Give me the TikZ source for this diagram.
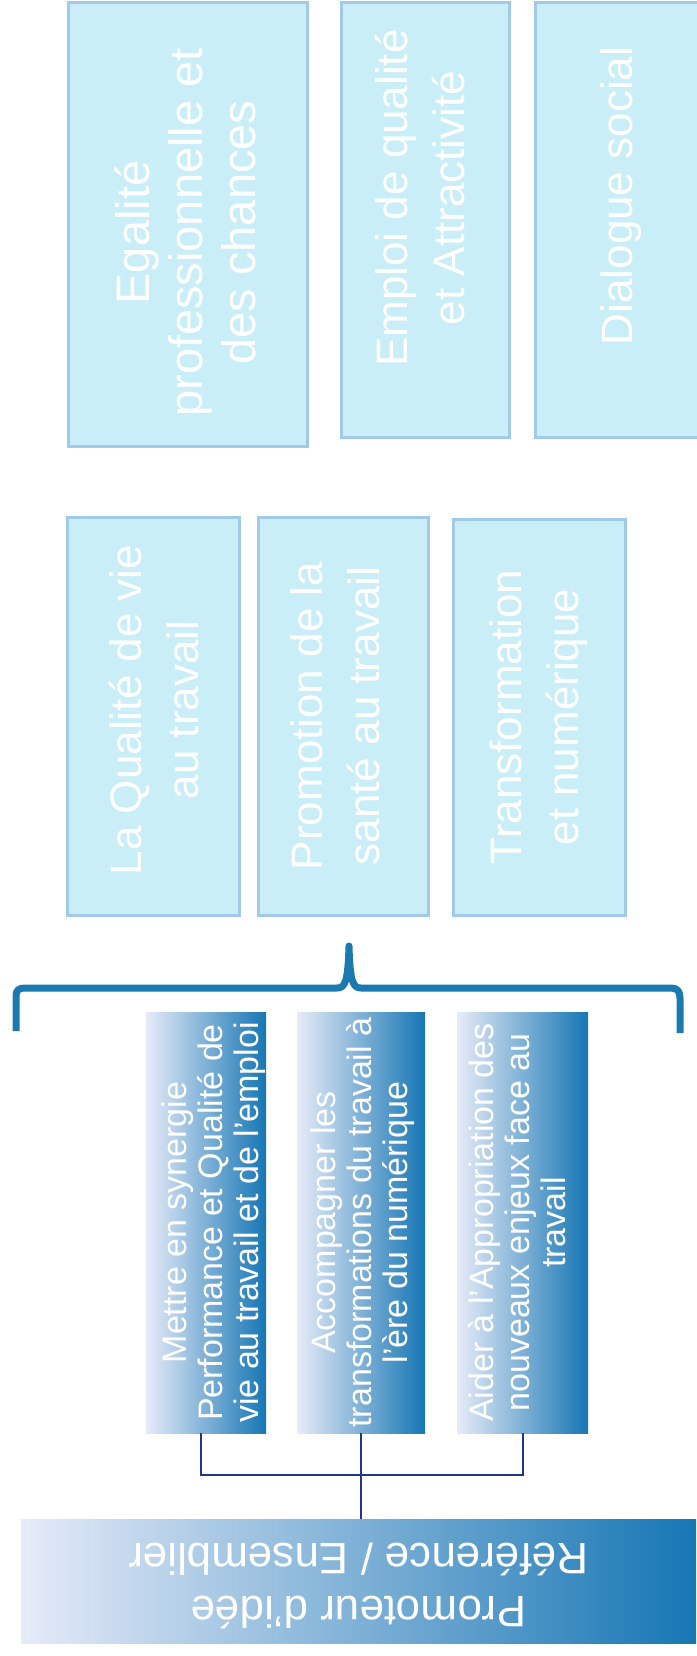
\documentclass[tikz,border=0pt]{standalone}
\usepackage{fontspec}
\setmainfont{Liberation Sans}
\usepackage{graphicx}
\usepackage{tikz}

\definecolor{boxfill}{RGB}{201,238,248}
\definecolor{boxline}{RGB}{160,202,232}
\definecolor{gradlight}{RGB}{230,235,248}
\definecolor{gradmid}{RGB}{160,188,228}
\definecolor{graddark}{RGB}{22,118,180}
\definecolor{bracecol}{RGB}{26,122,176}
\definecolor{linkcol}{RGB}{30,55,135}

% rotated text block: {right shift}{up shift}{lines}
\newcommand{\vtext}[3]{\raisebox{#2}[\height][\depth]{\hspace*{#1}\rotatebox{90}{\begin{tabular}{@{}c@{}}#3\end{tabular}}\hspace*{-#1}}}

\tikzset{
  themebox/.style={draw=boxline, line width=3pt, fill=boxfill, text=white, inner sep=0pt,
    font=\fontsize{44}{57}\selectfont},
  actionbox/.style={left color=gradlight, middle color=gradmid, right color=graddark,
    text=white, inner sep=0pt, font=\fontsize{34}{36}\selectfont},
  leadbox/.style={left color=gradlight, middle color=gradmid!85!graddark, right color=graddark,
    text=white, inner sep=0pt, font=\fontsize{44}{53}\selectfont},
  link/.style={draw=linkcol, line width=2pt},
  brace/.style={draw=bracecol, line width=7pt, line join=round},
}

\begin{document}
\begin{tikzpicture}[x=1pt,y=1pt,yscale=-1,xscale=1]
\useasboundingbox (0,0) rectangle (696,1656);

%Theme boxes, top row
\node[themebox, minimum width=239pt, minimum height=443pt, font=\fontsize{47}{53}\selectfont] (egalite) at (187.5,224.5) {\vtext{4pt}{-8pt}{Egalité\\professionnelle et\\des chances}};
\node[themebox, minimum width=168pt, minimum height=434pt] (emploi) at (425,220) {\vtext{0pt}{22pt}{Emploi de qualité\\et Attractivité}};
\node[themebox, minimum width=172pt, minimum height=434pt] (dialogue) at (621,220) {\vtext{0pt}{24pt}{Dialogue social}};

%Theme boxes, middle row
\node[themebox, minimum width=172pt, minimum height=398pt] (qualite) at (153,716) {\vtext{6pt}{6pt}{La Qualité de vie\\au travail}};
\node[themebox, minimum width=170pt, minimum height=398pt] (sante) at (343,716) {\vtext{-3pt}{0pt}{Promotion de la\\santé au travail}};
\node[themebox, minimum width=172pt, minimum height=396pt] (numerique) at (539,717) {\vtext{0pt}{0pt}{Transformation\\et numérique}};

%Brace
\draw[brace] (16,1031) -- (16,996) .. controls (16,990) and (19,988) .. (25,988) -- (337,988) .. controls (345,988) and (348,982) .. (349,946) .. controls (350,982) and (353,988) .. (361,988) -- (671,988) .. controls (677,988) and (680,991) .. (680,998) -- (680,1033);

%Action boxes
\node[actionbox, minimum width=120pt, minimum height=421pt] (synergie) at (206,1222.5) {\vtext{9pt}{0pt}{Mettre en synergie\\Performance et Qualité de\\vie au travail et de l'emploi}};
\node[actionbox, minimum width=128pt, minimum height=421pt] (numerisation) at (361,1222.5) {\vtext{3pt}{0pt}{Accompagner les\\transformations du travail à\\l'ère du numérique}};
\node[actionbox, minimum width=131pt, minimum height=421pt] (enjeux) at (522.5,1222.5) {\vtext{0pt}{0pt}{Aider à l'Appropriation des\\nouveaux enjeux face au\\travail}};

%Lead box
\node[leadbox, minimum width=675pt, minimum height=124pt] (promoteur) at (358.5,1581) {\rotatebox{180}{\begin{tabular}{@{}c@{}}Promoteur d'idée\\Référence / Ensemblier\end{tabular}}};

%Connectors
\draw[link] ([xshift=-5pt]synergie.south) -- ++(0,42) -| (enjeux.south);
\draw[link] (numerisation.south) -- (numerisation.south |- promoteur.north);

\end{tikzpicture}
\end{document}
